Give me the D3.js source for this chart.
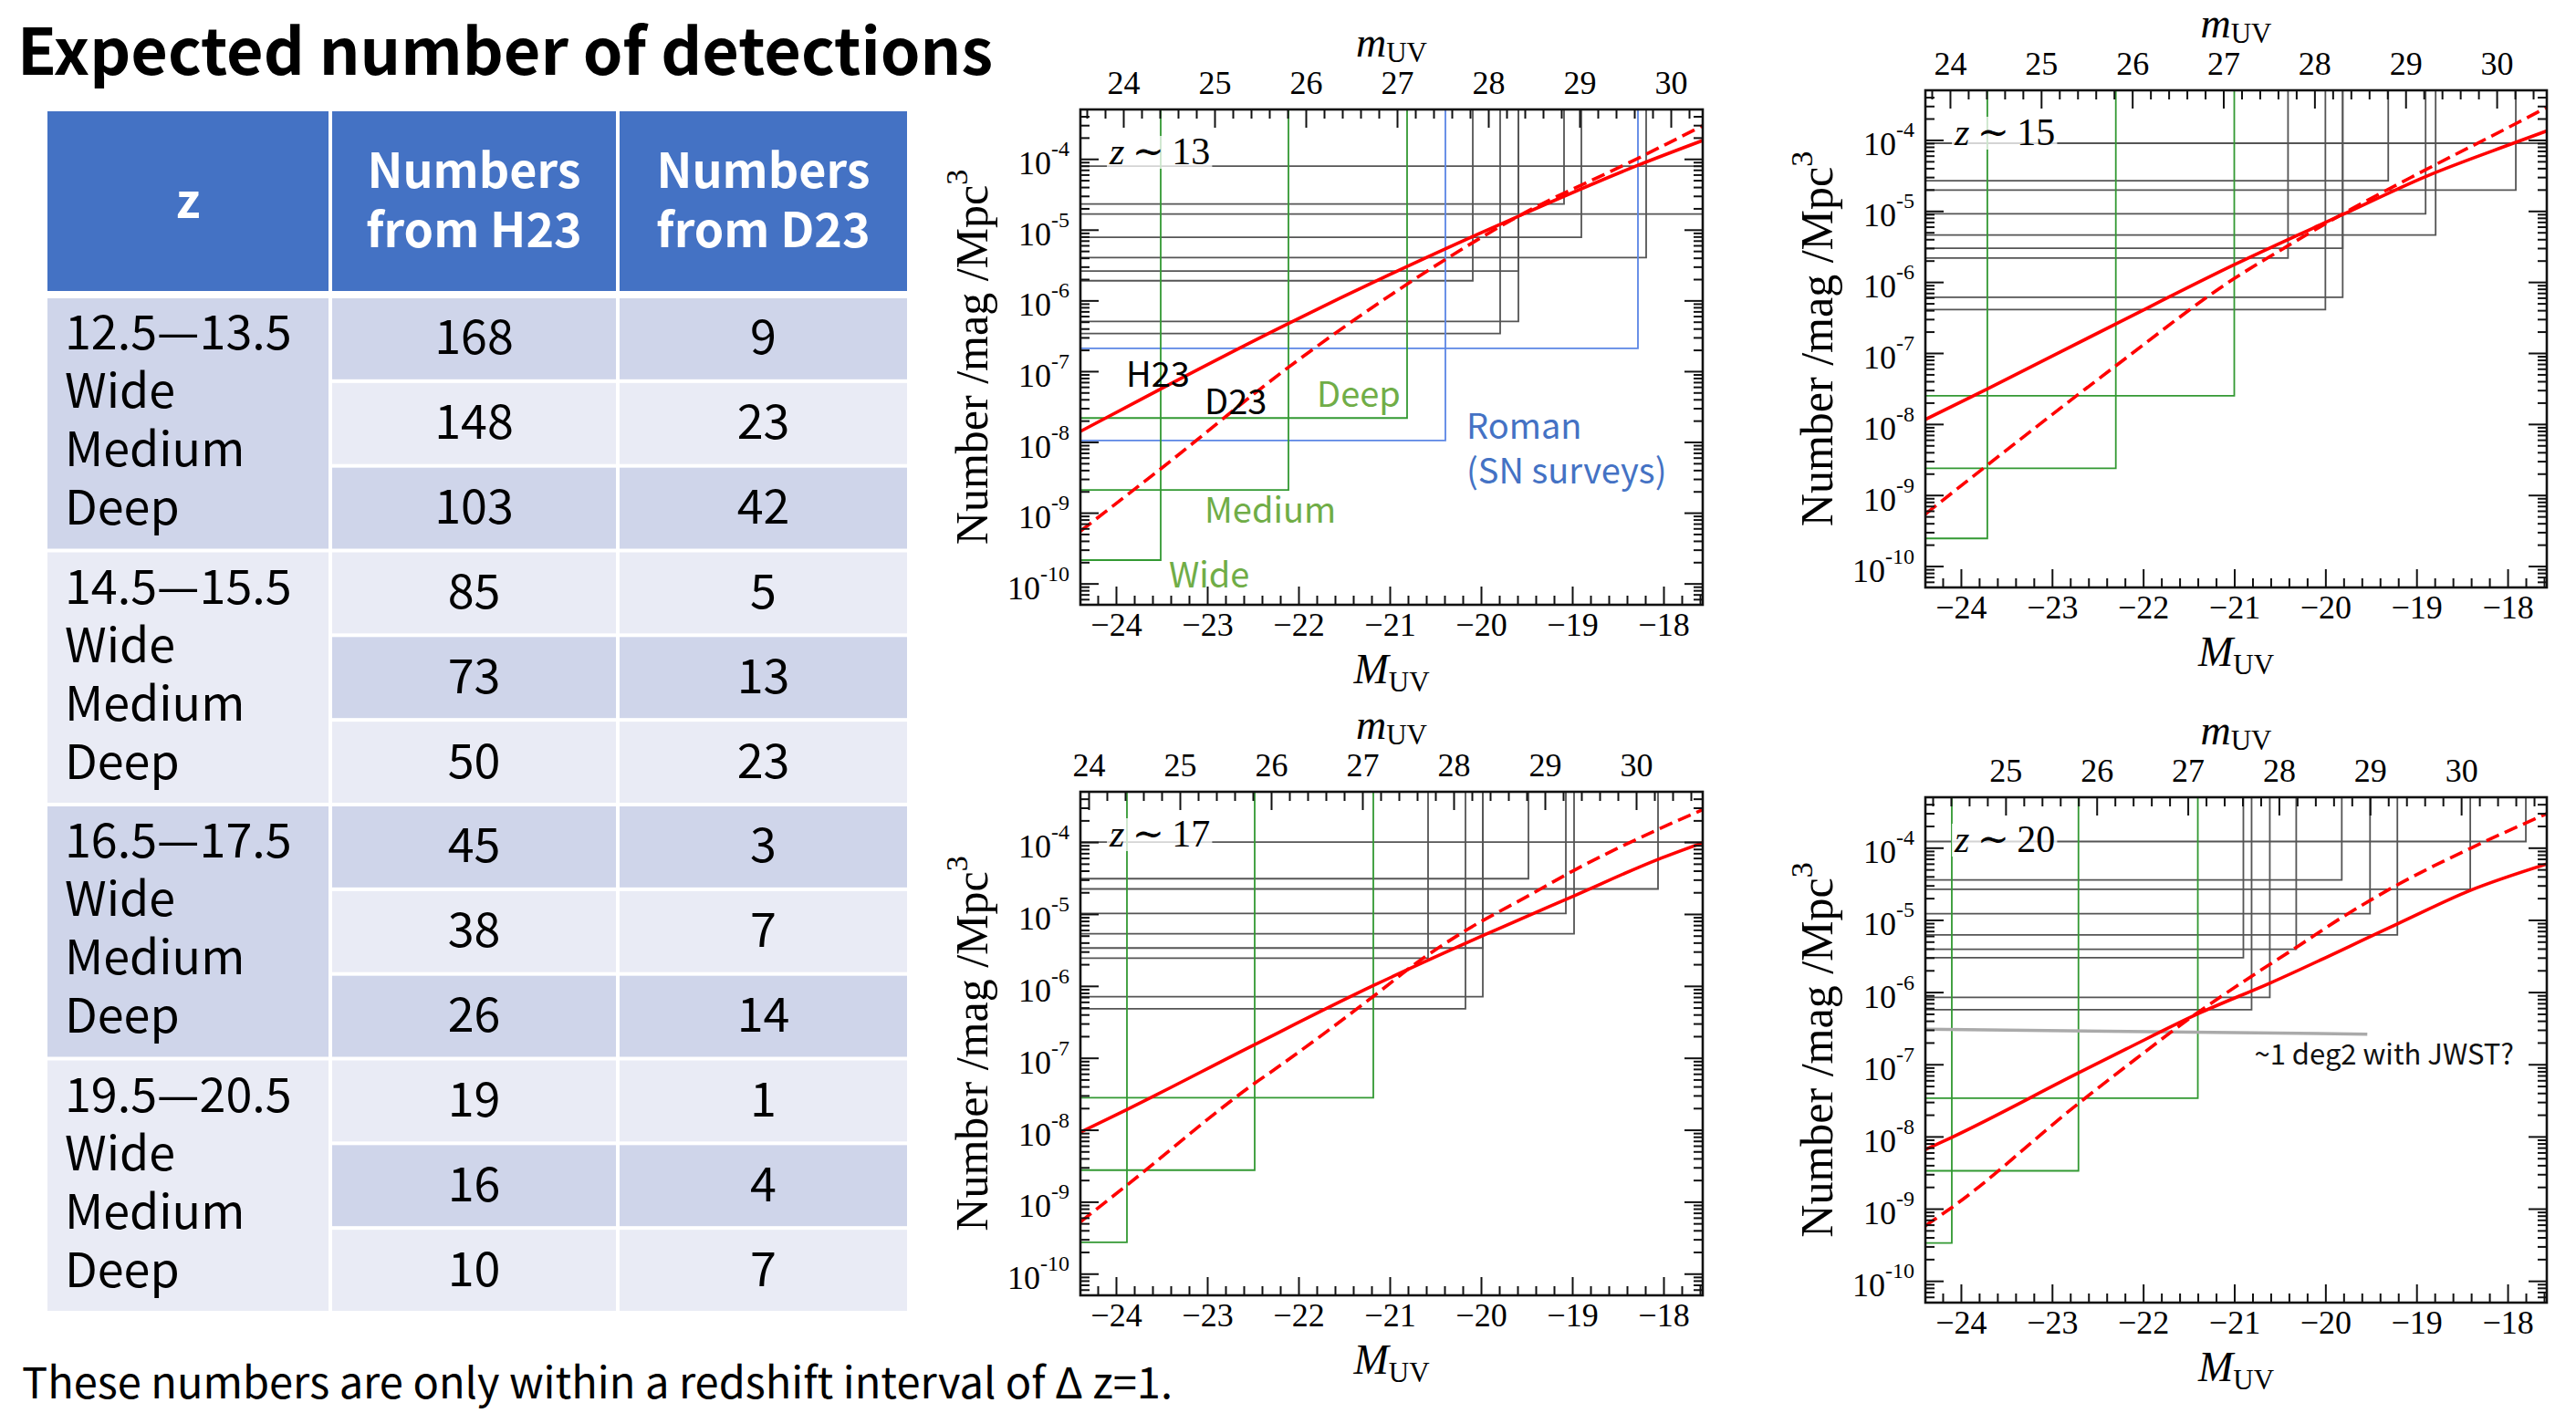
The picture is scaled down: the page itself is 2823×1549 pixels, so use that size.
<!DOCTYPE html>
<html>
<head>
<meta charset="utf-8">
<script src="https://cdn.jsdelivr.net/npm/d3@7"></script>
<style>
  body { margin: 0; background: #fff; }
  svg { display: block; }
</style>
</head>
<body>
<div id="chart"></div>
<script>
// ---- table data ----
const headerLabels = [["z"], ["Numbers", "from H23"], ["Numbers", "from D23"]];
const zRanges = ["12.5\u201413.5", "14.5\u201415.5", "16.5\u201417.5", "19.5\u201420.5"];
const surveyNames = ["Wide", "Medium", "Deep"];
const numbersH23 = [168, 148, 103, 85, 73, 50, 45, 38, 26, 19, 16, 10];
const numbersD23 = [9, 23, 42, 5, 13, 23, 3, 7, 14, 1, 4, 7];

// ---- panel data: [M_UV, number density] ----
const panelNames = ["13", "15", "17", "20"];
const magOffsets = [47.92, 48.12, 48.30, 48.51]; // m_UV - M_UV per panel
const magDomain = [-24.39, -17.57];
const phiDomain = [5.0e-11, 5.0e-4];

const h23_z13 = [[-24.39, 1.41e-8], [-23.51, 5.62e-8], [-22.11, 4.73e-7], [-20.81, 3.02e-6], [-19.59, 1.55e-5], [-18.28, 8.13e-5], [-17.57, 1.82e-4]];
const d23_z13 = [[-24.39, 5.5e-10], [-23.51, 4.17e-9], [-22.11, 1.135e-7], [-20.81, 1.70e-6], [-20.39, 3.8e-6], [-19.59, 1.55e-5], [-18.28, 1.02e-4], [-17.57, 2.95e-4]];
const h23_z15 = [[-24.39, 1.16e-8], [-23.71, 3.13e-8], [-22.30, 2.57e-7], [-21.00, 1.75e-6], [-19.81, 8.9e-6], [-18.90, 3.05e-5], [-17.91, 9.25e-5], [-17.57, 1.34e-4]];
const d23_z15 = [[-24.39, 5.4e-10], [-23.71, 2.64e-9], [-22.30, 6.6e-8], [-21.00, 1.12e-6], [-20.41, 3.24e-6], [-19.81, 9.1e-6], [-18.90, 3.8e-5], [-17.91, 1.70e-4], [-17.57, 2.88e-4]];
const h23_z17 = [[-24.39, 9.25e-9], [-23.88, 1.91e-8], [-22.48, 1.53e-7], [-21.18, 1.01e-6], [-19.98, 5.0e-6], [-18.98, 1.79e-5], [-18.06, 5.75e-5], [-17.57, 9.8e-5]];
const d23_z17 = [[-24.39, 5.25e-10], [-23.88, 1.70e-9], [-22.48, 4.43e-8], [-22.24, 7.23e-8], [-21.18, 7.16e-7], [-20.67, 2.26e-6], [-20.18, 5.77e-6], [-19.47, 1.82e-5], [-18.98, 4.05e-5], [-18.07, 1.48e-4], [-17.57, 2.82e-4]];
const h23_z20 = [[-24.39, 6.6e-9], [-24.10, 9.75e-9], [-22.71, 7.6e-8], [-22.19, 1.62e-7], [-21.40, 5.0e-7], [-20.61, 1.33e-6], [-19.21, 8.8e-6], [-18.41, 2.56e-5], [-17.57, 5.94e-5]];
const d23_z20 = [[-24.39, 5.8e-10], [-24.10, 1.04e-9], [-22.71, 2.87e-8], [-22.19, 9.3e-8], [-21.40, 5.21e-7], [-20.81, 1.66e-6], [-20.31, 4.24e-6], [-19.79, 1.14e-5], [-19.21, 3.06e-5], [-18.41, 9.8e-5], [-17.57, 2.96e-4]];

// survey limits: [1/volume, limiting M_UV]
const jwst_z13 = [[7.9e-5, -17.0], [2.31e-5, -19.09], [1.66e-5, -17.0], [7.8e-6, -18.90], [4.03e-6, -18.19], [2.6e-6, -19.59], [1.9e-6, -20.09], [5.06e-7, -19.59], [3.4e-7, -19.79]];
const jwst_z15 = [[9.0e-5, -17.0], [2.67e-5, -19.31], [1.97e-5, -17.91], [9.1e-6, -18.90], [4.6e-6, -18.79], [2.98e-6, -19.81], [2.17e-6, -20.41], [6.1e-7, -19.81], [4.1e-7, -20.00]];
const jwst_z17 = [[1.0e-4, -17.0], [3.1e-5, -19.48], [2.23e-5, -18.06], [1.02e-5, -19.07], [5.3e-6, -18.98], [3.37e-6, -19.98], [2.43e-6, -20.58], [7.1e-7, -19.98], [4.8e-7, -20.17]];
const jwst_z20 = [[1.22e-4, -17.80], [3.58e-5, -19.82], [2.65e-5, -18.41], [1.22e-5, -19.51], [6.2e-6, -19.21], [3.92e-6, -20.32], [2.99e-6, -20.90], [8.45e-7, -20.61], [5.7e-7, -20.81]];
const gwide_z13 = [[2.14e-10, -23.51], [2.1e-9, -22.11], [2.18e-8, -20.81]];
const gwide_z15 = [[2.45e-10, -23.71], [2.38e-9, -22.30], [2.5e-8, -21.00]];
const gwide_z17 = [[2.73e-10, -23.88], [2.75e-9, -22.48], [2.8e-8, -21.18]];
const gwide_z20 = [[3.35e-10, -24.10], [3.35e-9, -22.71], [3.4e-8, -21.40]];
const roman_z13 = [[1.05e-8, -20.39], [2.11e-7, -18.28]];
const jwstDeg2_z20 = [[-24.39, 3.06e-7], [-19.54, 2.62e-7]];

// text labels: [text, M_UV, density, kind]
const notes_z13 = [["H23", -23.89, 6.1e-8, "k"], ["D23", -23.03, 2.48e-8, "k"], ["Deep", -21.80, 3.1e-8, "g"],
  ["Roman", -20.16, 1.1e-8, "b"], ["(SN surveys)", -20.16, 2.56e-9, "b"], ["Medium", -23.03, 7.3e-10, "g"], ["Wide", -23.42, 8.8e-11, "g"]];
const notes_z20 = [["~1 deg2 with JWST?", -20.78, 9.86e-8, "s"]];

// ---- layout ----
const W = 2823, H = 1549;
const sans = "'Noto Sans CJK JP', 'Noto Sans', sans-serif";
const serif = "'Liberation Serif', 'DejaVu Serif', serif";
const darkCell = "#CFD5EA", lightCell = "#E9EBF5", headBlue = "#4472C4";

const svg = d3.select("#chart").append("svg")
  .attr("width", W).attr("height", H)
  .attr("viewBox", `0 0 ${W} ${H}`);

svg.append("rect").attr("width", W).attr("height", H).attr("fill", "#fff");

// title
svg.append("text")
  .attr("x", 19).attr("y", 82)
  .attr("font-family", sans).attr("font-weight", "bold").attr("font-size", 70)
  .text("Expected number of detections");

// ---- table ----
const colX = [50, 362, 677, 996];
const headTop = 122, headBottom = 319, bodyTop = 325, bodyBottom = 1439;
const rowH = (bodyBottom - bodyTop) / numbersH23.length;
const table = svg.append("g");

table.selectAll(".head").data(headerLabels).enter().append("rect")
  .attr("x", (d, i) => colX[i] + 2).attr("y", headTop)
  .attr("width", (d, i) => colX[i + 1] - colX[i] - 4).attr("height", headBottom - headTop)
  .attr("fill", headBlue);

table.selectAll(".headText").data(headerLabels).enter().append("text")
  .attr("text-anchor", "middle")
  .attr("font-family", sans).attr("font-weight", "bold").attr("font-size", 52).attr("fill", "#fff")
  .each(function (d, i) {
    const cx = (colX[i] + colX[i + 1]) / 2;
    const cy = (headTop + headBottom) / 2;
    const t = d3.select(this);
    d.forEach((line, k) => {
      t.append("tspan").attr("x", cx)
        .attr("y", cy + 18 + (k - (d.length - 1) / 2) * 65)
        .text(line);
    });
  });

// z column, merged cells
table.selectAll(".zcell").data(zRanges).enter().append("rect")
  .attr("x", colX[0] + 2).attr("y", (d, i) => bodyTop + i * 3 * rowH + 2)
  .attr("width", colX[1] - colX[0] - 4).attr("height", 3 * rowH - 4)
  .attr("fill", (d, i) => i % 2 === 0 ? darkCell : lightCell);

table.selectAll(".ztext").data(zRanges).enter().append("text")
  .attr("font-family", sans).attr("font-size", 52).attr("fill", "#000")
  .each(function (d, i) {
    const t = d3.select(this);
    [d].concat(surveyNames).forEach((line, k) => {
      t.append("tspan").attr("x", colX[0] + 21)
        .attr("y", bodyTop + i * 3 * rowH + 58 + k * 64)
        .text(line);
    });
  });

[numbersH23, numbersD23].forEach((col, c) => {
  table.selectAll(".cell" + c).data(col).enter().append("rect")
    .attr("x", colX[c + 1] + 2).attr("y", (d, i) => bodyTop + i * rowH + 2)
    .attr("width", colX[c + 2] - colX[c + 1] - 4).attr("height", rowH - 4)
    .attr("fill", (d, i) => i % 2 === 0 ? darkCell : lightCell);
  table.selectAll(".num" + c).data(col).enter().append("text")
    .attr("x", (colX[c + 1] + colX[c + 2]) / 2)
    .attr("y", (d, i) => bodyTop + (i + 0.5) * rowH + 17)
    .attr("text-anchor", "middle")
    .attr("font-family", sans).attr("font-size", 52)
    .text(d => d);
});

// footnote
svg.append("text")
  .attr("x", 24).attr("y", 1533)
  .attr("font-family", sans).attr("font-size", 47)
  .text("These numbers are only within a redshift interval of \u0394 z=1.");

// ---- panels ----
const panels = [
  { name: panelNames[0], off: magOffsets[0], box: { left: 1184, top: 120, width: 682, height: 543 },
    h23: h23_z13, d23: d23_z13, jwst: jwst_z13, wide: gwide_z13, roman: roman_z13, notes: notes_z13 },
  { name: panelNames[1], off: magOffsets[1], box: { left: 2110, top: 99, width: 681, height: 545 },
    h23: h23_z15, d23: d23_z15, jwst: jwst_z15, wide: gwide_z15, roman: [], notes: [] },
  { name: panelNames[2], off: magOffsets[2], box: { left: 1184, top: 868, width: 682, height: 552 },
    h23: h23_z17, d23: d23_z17, jwst: jwst_z17, wide: gwide_z17, roman: [], notes: [] },
  { name: panelNames[3], off: magOffsets[3], box: { left: 2110, top: 874, width: 681, height: 554 },
    h23: h23_z20, d23: d23_z20, jwst: jwst_z20, wide: gwide_z20, roman: [], notes: notes_z20, deg2: jwstDeg2_z20 }
];

const noteColor = { k: "#000", g: "#70AD47", b: "#4472C4", s: "#111" };

panels.forEach((p, pi) => {
  const { left, top, width, height } = p.box;
  const g = svg.append("g").attr("transform", `translate(${left},${top})`);

  const x = d3.scaleLinear().domain(magDomain).range([0, width]);
  const xTop = d3.scaleLinear().domain(magDomain.map(v => v + p.off)).range([0, width]);
  const y = d3.scaleLog().domain(phiDomain).range([height, 0]);

  const clipId = "clip" + pi;
  g.append("clipPath").attr("id", clipId)
    .append("rect").attr("width", width).attr("height", height);
  const plot = g.append("g").attr("clip-path", `url(#${clipId})`);

  // survey limits: horizontal at 1/V, vertical at M_lim up to the top
  const stepPath = d => `M${x(magDomain[0]) - 5},${y(d[0])}H${x(d[1])}V${-5}`;
  plot.selectAll(".jwst").data(p.jwst).enter().append("path")
    .attr("d", stepPath).attr("fill", "none").attr("stroke", "#555").attr("stroke-width", 1.8);
  plot.selectAll(".roman").data(p.roman).enter().append("path")
    .attr("d", stepPath).attr("fill", "none").attr("stroke", "#5B86E5").attr("stroke-width", 1.8);
  plot.selectAll(".wide").data(p.wide).enter().append("path")
    .attr("d", stepPath).attr("fill", "none").attr("stroke", "#339933").attr("stroke-width", 1.8);

  if (p.deg2) {
    plot.append("path").datum(p.deg2)
      .attr("d", d3.line().x(d => x(d[0])).y(d => y(d[1])))
      .attr("fill", "none").attr("stroke", "#aaa").attr("stroke-width", 3.5);
  }

  const curve = d3.line().x(d => x(d[0])).y(d => y(d[1])).curve(d3.curveMonotoneX);
  plot.append("path").datum(p.h23).attr("d", curve)
    .attr("fill", "none").attr("stroke", "#ff0000").attr("stroke-width", 3.6);
  plot.append("path").datum(p.d23).attr("d", curve)
    .attr("fill", "none").attr("stroke", "#ff0000").attr("stroke-width", 3.6)
    .attr("stroke-dasharray", "15,7");

  // axes with inward ticks
  const majorX = d3.range(-24, -17, 1).filter(v => v >= magDomain[0] && v <= magDomain[1]);
  const minorX = d3.range(Math.ceil(magDomain[0] * 5), Math.floor(magDomain[1] * 5) + 1)
    .map(v => v / 5).filter(v => Math.abs(v - Math.round(v)) > 1e-6);
  const topDom = xTop.domain();
  const majorTop = d3.range(Math.ceil(topDom[0]), Math.floor(topDom[1]) + 1);
  const minorTop = d3.range(Math.ceil(topDom[0] * 5), Math.floor(topDom[1] * 5) + 1)
    .map(v => v / 5).filter(v => Math.abs(v - Math.round(v)) > 1e-6);
  const majorY = d3.range(-10, -3).map(e => Math.pow(10, e));
  const minorY = [];
  d3.range(-11, -3).forEach(e => d3.range(2, 10).forEach(m => {
    const v = m * Math.pow(10, e);
    if (v > phiDomain[0] && v < phiDomain[1]) minorY.push(v);
  }));

  const fmtMinus = d => d < 0 ? "\u2212" + (-d) : String(d);
  const axes = [
    [d3.axisBottom(x).tickValues(majorX).tickSize(-20).tickPadding(8).tickFormat(fmtMinus), height, true],
    [d3.axisBottom(x).tickValues(minorX).tickSize(-10).tickFormat(""), height, false],
    [d3.axisTop(xTop).tickValues(majorTop).tickSize(-20).tickPadding(17).tickFormat(d3.format("d")), 0, true],
    [d3.axisTop(xTop).tickValues(minorTop).tickSize(-10).tickFormat(""), 0, false]
  ];
  axes.forEach(([ax, ty, lab]) => {
    const a = g.append("g").attr("transform", `translate(0,${ty})`).call(ax.tickSizeOuter(0));
    a.select(".domain").remove();
    a.selectAll(".tick line").attr("stroke", "#111").attr("stroke-width", 2);
    if (lab) a.selectAll("text").attr("font-family", serif).attr("font-size", 36).attr("fill", "#000");
  });
  [[d3.axisLeft(y), 0], [d3.axisRight(y), width]].forEach(([base, tx]) => {
    [[majorY, -20], [minorY, -10]].forEach(([vals, size]) => {
      const a = g.append("g").attr("transform", `translate(${tx},0)`)
        .call(base.tickValues(vals).tickSize(size).tickSizeOuter(0).tickFormat(""));
      a.select(".domain").remove();
      a.selectAll(".tick line").attr("stroke", "#111").attr("stroke-width", 2);
    });
  });

  // y tick labels 10^n
  g.selectAll(".ylab").data(majorY).enter().append("text")
    .attr("x", -12).attr("y", d => y(d) + 17)
    .attr("text-anchor", "end").attr("font-family", serif).attr("font-size", 36)
    .each(function (d) {
      const t = d3.select(this);
      t.append("tspan").text("10");
      t.append("tspan").attr("dy", -20).attr("font-size", 24).text("-" + (-Math.round(Math.log10(d))));
    });

  // frame
  g.append("rect").attr("width", width).attr("height", height)
    .attr("fill", "none").attr("stroke", "#111").attr("stroke-width", 2.6);

  // axis titles
  const bt = g.append("text").attr("x", width / 2).attr("y", height + 86)
    .attr("text-anchor", "middle").attr("font-family", serif).attr("font-size", 46);
  bt.append("tspan").attr("font-style", "italic").text("M");
  bt.append("tspan").attr("font-size", 31).attr("dy", 9).text("UV");

  const tt = g.append("text").attr("x", width / 2).attr("y", -58)
    .attr("text-anchor", "middle").attr("font-family", serif).attr("font-size", 46);
  tt.append("tspan").attr("font-style", "italic").text("m");
  tt.append("tspan").attr("font-size", 31).attr("dy", 6).text("UV");

  const yt = g.append("text")
    .attr("transform", `translate(${-102},${height / 2}) rotate(-90)`)
    .attr("text-anchor", "middle").attr("font-family", serif).attr("font-size", 50);
  yt.append("tspan").text("Number /mag /Mpc");
  yt.append("tspan").attr("font-size", 34).attr("dy", -22).text("3");

  // redshift label with translucent white box
  const zl = g.append("text").attr("x", 32).attr("y", 60)
    .attr("font-family", serif).attr("font-size", 42);
  zl.append("tspan").attr("font-style", "italic").text("z");
  zl.append("tspan").text("\u2009\u223C\u2009" + p.name);
  const bb = zl.node().getBBox();
  g.insert("rect", () => zl.node())
    .attr("x", bb.x - 2).attr("y", bb.y + 6).attr("width", bb.width + 4).attr("height", bb.height - 10)
    .attr("fill", "#fff").attr("opacity", 0.75);

  // annotations
  g.selectAll(".note").data(p.notes).enter().append("text")
    .attr("x", d => x(d[1])).attr("y", d => y(d[2]))
    .attr("font-family", sans).attr("font-size", d => d[3] === "s" ? 31 : 38)
    .attr("fill", d => noteColor[d[3]])
    .text(d => d[0]);
});
</script>
</body>
</html>
